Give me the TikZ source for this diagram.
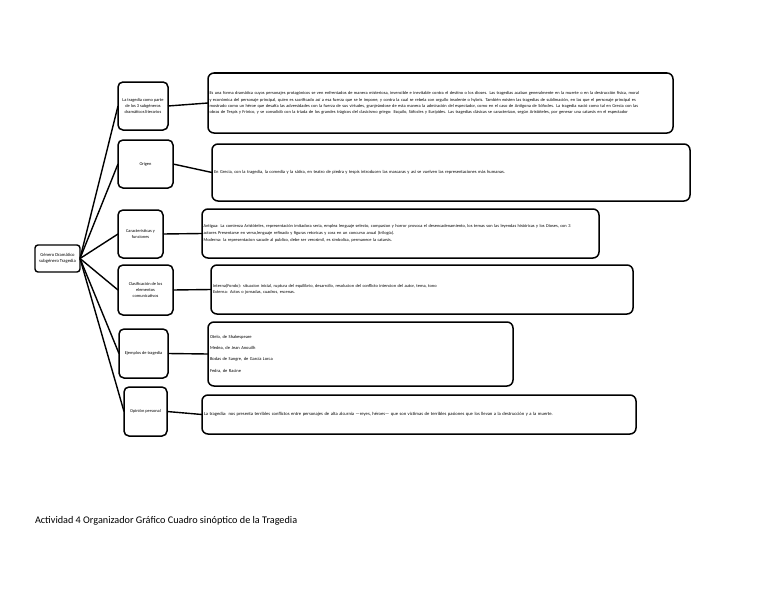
\documentclass[tikz,border=0pt]{standalone}
\usepackage{fontspec}
\setmainfont{Carlito}
\usepackage{tikz}
\usetikzlibrary{positioning}

\begin{document}
\begin{tikzpicture}[x=1pt, y=-1pt,
  every node/.style={inner sep=1.5pt, outer sep=0pt},
  rnode/.style={draw, line width=1.4pt, rounded corners=3pt, align=center, font=\fontsize{4.6}{6.4}\selectfont},
  mnode/.style={draw, line width=1.5pt, rounded corners=5pt, align=center, font=\fontsize{4.4}{6.2}\selectfont},
  tnode/.style={draw, line width=1.5pt, rounded corners=6pt, anchor=north west, align=left, font=\fontsize{4.4}{6.2}\selectfont},
  link/.style={line width=1.4pt, black}
]
  \useasboundingbox (0,0) rectangle (768,594);

  % Root
  \node[rnode, minimum width=45, minimum height=27] (gen) at (57.5,258.5) {G\'enero Dram\'atico\\subg\'enero Tragedia};

  % Middle: topics
  \node[mnode, minimum width=50, minimum height=48] (parte) at (143,106) {La tragedia como parte\\de los 3 subg\'eneros\\dram\'aticos literarios};
  \node[mnode, minimum width=55, minimum height=48] (origen) at (145.5,164) {Origen};
  \node[mnode, minimum width=45, minimum height=48] (carac) at (140.5,234) {Caracter\'isticas y\\funciones};
  \node[mnode, minimum width=55, minimum height=50] (clasif) at (145.5,290) {Clasificaci\'on de los\\elementos\\comunicativos};
  \node[mnode, minimum width=49, minimum height=49] (ejem) at (143.5,353.5) {Ejemplos de tragedia};
  \node[mnode, minimum width=43, minimum height=49] (opin) at (145.5,411.5) {Opini\'on personal};

  % Right: contents
  \node[tnode, minimum width=464, minimum height=60, text width=462] (defn) at (208,73) {Es una forma dram\'atica cuyos personajes protag\'onicos se ven enfrentados de manera misteriosa, invencible e inevitable contra el destino o los dioses. Las tragedias acaban generalmente en la muerte o en la destrucci\'on f\'isica, moral\\y econ\'omica del personaje principal, quien es sacrificado as\'i a esa fuerza que se le impone, y contra la cual se rebela con orgullo insolente o hybris. Tambi\'en existen las tragedias de sublimaci\'on, en las que el personaje principal es\\mostrado como un h\'eroe que desaf\'ia las adversidades con la fuerza de sus virtudes, granje\'andose de esta manera la admiraci\'on del espectador, como en el caso de Ant\'igona de S\'ofocles. La tragedia naci\'o como tal en Grecia con las\\obras de Tespis y Fr\'inico, y se consolid\'o con la tr\'iada de los grandes tr\'agicos del clasicismo griego: Esquilo, S\'ofocles y Eur\'ipides. Las tragedias cl\'asicas se caracterizan, seg\'un Arist\'oteles, por generar una catarsis en el espectador};
  \node[tnode, minimum width=478, minimum height=57, text width=474, font=\fontsize{4.5}{6.2}\selectfont] (otxt) at (212,144) {En Grecia, con la tragedia, la comedia y la s\'atira, en teatro de piedra y tespis introducen las mascaras y as\'i se vuelven las representaciones m\'as humanas.};
  \node[tnode, minimum width=396, minimum height=49, text width=394] (ctxt) at (202,209) {Antigua: La comienza Arist\'oteles, representaci\'on imitadora seria, emplea lenguaje selecto, compasion y horror provoca el desencadenamiento, los temas son las leyendas hist\'oricas y los Dioses, con 3\\actores Presentarse en verso,lenguaje refinado y figuras retoricas y cora en un concurso anual (trilog\'ia).\\[1pt]Moderna: la representacion sacude al publico, debe ser verosimil, es simbolica, permanece la catarsis.};
  \node[tnode, minimum width=422, minimum height=49, text width=418] (ltxt) at (211,265) {Interna(Fondo): situacion inicial, ruptura del equilibrio, desarrollo, resolucion del conflicto intencion del autor, tema, tono\\Externa: Actos o jornadas, cuadros, escenas.};
  \node[tnode, minimum width=305, minimum height=64, text width=301, font=\fontsize{4.5}{6.2}\selectfont] (etxt) at (208,322) {Otelo, de Shakespeare\\[5pt]Medea, de Jean Anouilh\\[5pt]Bodas de Sangre, de Garc\'ia Lorca\\[5pt]Fedra, de Racine};
  \node[tnode, minimum width=434, minimum height=39, text width=430, font=\fontsize{4.6}{6.2}\selectfont] (ptxt) at (202,395) {La tragedia: nos presenta terribles conflictos entre personajes de alta alcurnia ---reyes, h\'eroes--- que son victimas de terribles pasiones que los llevan a la destrucci\'on y a la muerte.};

  % Title
  \node[anchor=base west, inner sep=0pt, font=\fontsize{10.2}{12}\selectfont] (titulo) at (35,523) {Actividad 4 Organizador Gr\'afico Cuadro sin\'optico de la Tragedia};

  % Connections: root -> topics
  \draw[link] (gen.east) -- (parte.west);
  \draw[link] (gen.east) -- (origen.west);
  \draw[link] (gen.east) -- (carac.west);
  \draw[link] (gen.east) -- (clasif.west);
  \draw[link] (gen.east) -- (ejem.west);
  \draw[link] (gen.east) -- (opin.west);

  % Connections: topics -> contents
  \draw[link] (parte.east) -- (defn.west);
  \draw[link] (origen.east) -- (otxt.west);
  \draw[link] (carac.east) -- (ctxt.west);
  \draw[link] (clasif.east) -- (ltxt.west);
  \draw[link] (ejem.east) -- (etxt.west);
  \draw[link] (opin.east) -- (ptxt.west);
\end{tikzpicture}
\end{document}
